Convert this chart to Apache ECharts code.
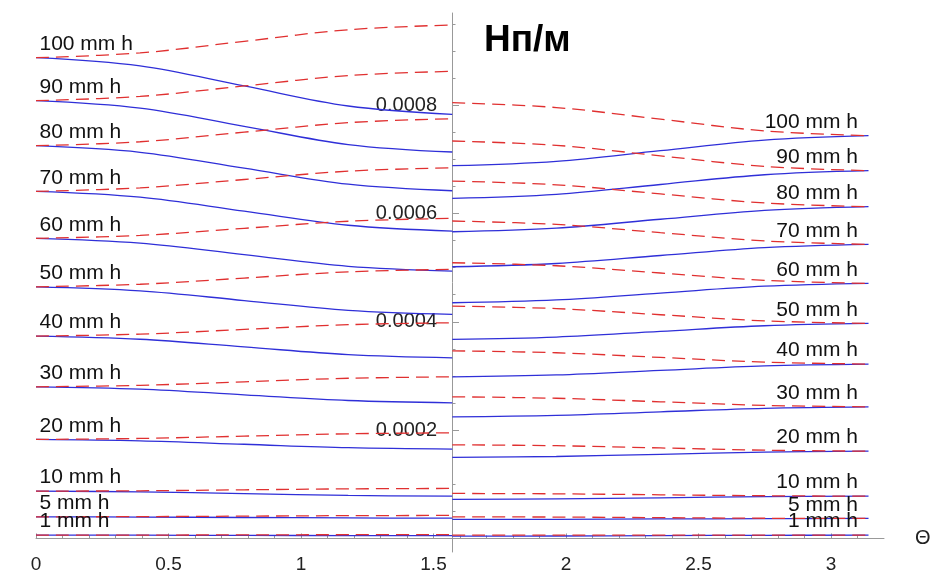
<!DOCTYPE html>
<html>

<head>
  <meta charset="UTF-8">
  <title>Нп/м</title>
  <script src="https://cdn.jsdelivr.net/npm/echarts@6.0.0/dist/echarts.min.js"></script>
  <style>
    * {
      margin: 0;
      padding: 0;
      box-sizing: border-box;
    }

    body {
      background: #fff;
    }

    #chart {
      width: 932px;
      height: 571px;
    }
  </style>
</head>

<body>
  <div id="chart"></div>
  <script>
    // rain rate of each pair of curves, mm/h
    const rates = [100, 90, 80, 70, 60, 50, 40, 30, 20, 10, 5, 1]

    // angle samples (rad) for the two halves
    const thetaLeft = [0, 0.3927, 0.7854, 1.1781, 1.5708]
    const thetaRight = [1.5708, 1.9635, 2.3562, 2.7489, 3.1416]

    // values in units of 1e-4 Np/m, one row per rate
    const blueLeft = [
      [8.875, 8.722, 8.353, 7.983, 7.830],
      [8.081, 7.943, 7.608, 7.272, 7.134],
      [7.250, 7.129, 6.835, 6.540, 6.419],
      [6.408, 6.301, 6.042, 5.782, 5.675],
      [5.540, 5.452, 5.238, 5.024, 4.936],
      [4.646, 4.572, 4.392, 4.211, 4.137],
      [3.736, 3.677, 3.536, 3.394, 3.335],
      [2.800, 2.757, 2.652, 2.547, 2.504],
      [1.828, 1.802, 1.739, 1.675, 1.649],
      [0.873, 0.860, 0.827, 0.794, 0.781],
      [0.399, 0.395, 0.387, 0.379, 0.375],
      [0.061, 0.060, 0.057, 0.053, 0.052]
    ]

    const redLeft = [
      [8.875, 8.963, 9.177, 9.391, 9.479],
      [8.081, 8.160, 8.353, 8.545, 8.624],
      [7.250, 7.323, 7.500, 7.676, 7.749],
      [6.408, 6.472, 6.626, 6.780, 6.844],
      [5.540, 5.594, 5.725, 5.856, 5.910],
      [4.646, 4.693, 4.807, 4.921, 4.968],
      [3.736, 3.772, 3.859, 3.946, 3.982],
      [2.800, 2.827, 2.892, 2.957, 2.984],
      [1.828, 1.846, 1.889, 1.932, 1.950],
      [0.873, 0.880, 0.898, 0.916, 0.923],
      [0.399, 0.403, 0.412, 0.421, 0.425],
      [0.061, 0.062, 0.066, 0.069, 0.070]
    ]

    const blueRight = [
      [6.881, 6.962, 7.158, 7.354, 7.435],
      [6.279, 6.353, 6.534, 6.714, 6.789],
      [5.662, 5.729, 5.893, 6.056, 6.124],
      [5.016, 5.076, 5.223, 5.369, 5.429],
      [4.351, 4.403, 4.530, 4.657, 4.709],
      [3.675, 3.718, 3.823, 3.927, 3.970],
      [2.984, 3.018, 3.102, 3.185, 3.219],
      [2.246, 2.273, 2.338, 2.403, 2.430],
      [1.496, 1.513, 1.554, 1.595, 1.612],
      [0.720, 0.729, 0.751, 0.772, 0.781],
      [0.351, 0.354, 0.360, 0.366, 0.369],
      [0.042, 0.045, 0.052, 0.058, 0.061]
    ]

    const redRight = [
      [8.044, 7.955, 7.740, 7.524, 7.435],
      [7.337, 7.257, 7.063, 6.869, 6.789],
      [6.598, 6.529, 6.361, 6.193, 6.124],
      [5.860, 5.797, 5.645, 5.492, 5.429],
      [5.090, 5.034, 4.900, 4.765, 4.709],
      [4.290, 4.243, 4.130, 4.017, 3.970],
      [3.464, 3.428, 3.342, 3.255, 3.219],
      [2.615, 2.588, 2.523, 2.457, 2.430],
      [1.729, 1.712, 1.671, 1.629, 1.612],
      [0.831, 0.824, 0.806, 0.788, 0.781],
      [0.399, 0.395, 0.384, 0.373, 0.369],
      [0.061, 0.061, 0.061, 0.061, 0.061]
    ]

    const xTicks = [0, 0.5, 1, 1.5, 2, 2.5, 3]
    const yTicks = [2, 4, 6, 8]

    const FONT = '"Liberation Sans", Arial, sans-serif'
    const BLUE = '#2f2fd8'
    const RED = '#e03030'
    const AXIS = '#999'

    function curve(xs, ys, color, dashed) {
      return {
        type: 'line',
        data: xs.map((x, k) => [x, ys[k]]),
        smooth: 0.35,
        symbol: 'none',
        silent: true,
        z: dashed ? 3 : 2,
        lineStyle: {
          color: color,
          width: 1.3,
          type: dashed ? [13, 7] : 'solid'
        }
      }
    }

    const series = []
    rates.forEach((r, i) => {
      series.push(curve(thetaLeft, blueLeft[i], BLUE, false))
      series.push(curve(thetaLeft, redLeft[i], RED, true))
      series.push(curve(thetaRight, blueRight[i], BLUE, false))
      series.push(curve(thetaRight, redRight[i], RED, true))
    })

    // rate labels at both ends
    function labels(pts, pos, dist) {
      return {
        type: 'scatter',
        silent: true,
        symbolSize: 1,
        itemStyle: { color: 'rgba(0,0,0,0)', opacity: 1 },
        data: pts,
        label: {
          show: true,
          position: pos,
          distance: dist,
          offset: [0, -13.5],
          color: '#111',
          fontSize: 21,
          fontFamily: FONT,
          formatter: p => rates[p.dataIndex] + ' mm h'
        },
        z: 5
      }
    }
    series.push(labels(rates.map((r, i) => [thetaLeft[0], blueLeft[i][0]]), 'right', 3))
    series.push(labels(rates.map((r, i) => [thetaRight[4], blueRight[i][4]]), 'left', 10))

    const myChart = echarts.init(document.querySelector('#chart'))
    const option = {
      animation: false,
      backgroundColor: '#fff',
      title: {
        text: 'Нп/м',
        left: 484,
        top: 22,
        padding: 0,
        textStyle: {
          fontSize: 37,
          fontWeight: 'bold',
          color: '#000',
          fontFamily: FONT
        }
      },
      grid: {
        left: 36,
        right: 48,
        top: 13,
        bottom: 19,
        containLabel: false,
        outerBoundsMode: 'none'
      },
      xAxis: {
        type: 'value',
        min: 0,
        max: 3.2,
        interval: 0.5,
        name: 'Θ',
        nameLocation: 'end',
        nameGap: 31,
        nameTextStyle: { fontSize: 20, color: '#222', fontFamily: FONT },
        axisLine: { show: true, onZero: true, lineStyle: { color: AXIS, width: 1 } },
        axisTick: { show: true, inside: true, length: 5, customValues: xTicks, lineStyle: { color: AXIS } },
        minorTick: { show: true, splitNumber: 5, length: 3, lineStyle: { color: AXIS } },
        axisLabel: {
          customValues: xTicks,
          margin: 3,
          fontSize: 19,
          color: '#222',
          fontFamily: FONT,
          formatter: v => xTicks.includes(v) ? String(v) : ''
        },
        splitLine: { show: false }
      },
      yAxis: {
        type: 'value',
        min: -0.25,
        max: 9.70,
        position: 'left',
        offset: -416,
        axisLine: { show: true, onZero: false, lineStyle: { color: AXIS, width: 1 } },
        axisTick: { show: true, inside: true, length: 7, customValues: yTicks, lineStyle: { color: AXIS } },
        minorTick: { show: true, splitNumber: 4, length: 3.5, lineStyle: { color: AXIS } },
        axisLabel: {
          customValues: yTicks,
          margin: 15,
          fontSize: 20,
          color: '#222',
          fontFamily: FONT,
          formatter: v => yTicks.includes(v) ? (v / 10000).toFixed(4) : ''
        },
        splitLine: { show: false }
      },
      series: series
    }
    myChart.setOption(option)
  </script>
</body>

</html>
